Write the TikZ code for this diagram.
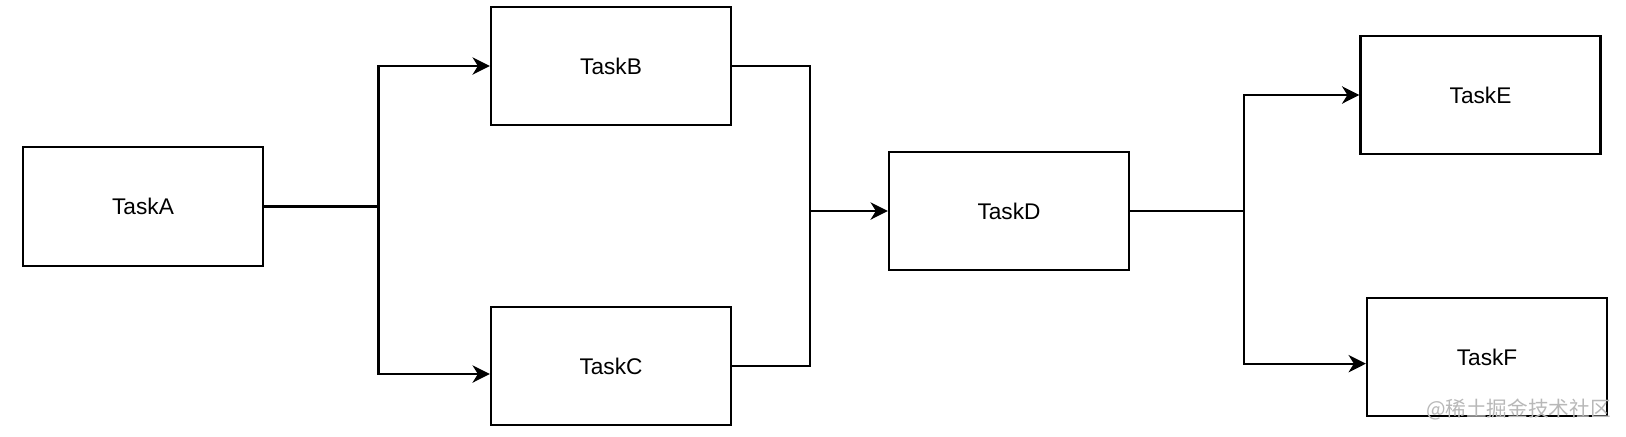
\documentclass[tikz,border=0pt]{standalone}
\usepackage{fontspec}
\setmainfont{Liberation Sans}
\newfontfamily\cjkfont{Noto Sans CJK SC}
\usetikzlibrary{arrows.meta,positioning,calc}

\begin{document}
\begin{tikzpicture}[x=0.75pt,y=-0.75pt,line width=1.7pt,
                    task node/.style={rectangle,draw,minimum width=180pt,minimum height=89pt,font=\fontsize{17}{20}\selectfont},
                    flow/.style={-{Stealth[length=13pt,width=13pt,inset=4pt]}}]
\useasboundingbox (0,0) rectangle (1626,436);

\node[task node] (TaskA) at (143,206.5) {TaskA};
\node[task node] (TaskB) at (611,66) {TaskB};
\node[task node] (TaskC) at (611,366) {TaskC};
\node[task node] (TaskD) at (1009,211) {TaskD};
\node[task node] (TaskE) at (1480.5,95) {TaskE};
\node[task node] (TaskF) at (1487,357) {TaskF};

\coordinate (SplitA) at (378.5,206.5);
\coordinate (JoinD) at (810,211);
\coordinate (SplitD) at (1244,211);

\draw[flow] (TaskA.east) -- (SplitA) |- (TaskB.west);
\draw[flow] (SplitA) |- ([yshift=-6pt]TaskC.west);
\draw (TaskB.east) -| (JoinD);
\draw (TaskC.east) -| (JoinD);
\draw[flow] (JoinD) -- (TaskD.west);
\draw (TaskD.east) -- (SplitD);
\draw[flow] (SplitD) |- (TaskE.west);
\draw[flow] (SplitD) |- ([yshift=-5pt]TaskF.west);

\node[font=\cjkfont\fontsize{15.5}{18}\selectfont,text=black!28,anchor=east,inner sep=0pt] (Mark) at (1612,410) {@稀土掘金技术社区};
\end{tikzpicture}
\end{document}
